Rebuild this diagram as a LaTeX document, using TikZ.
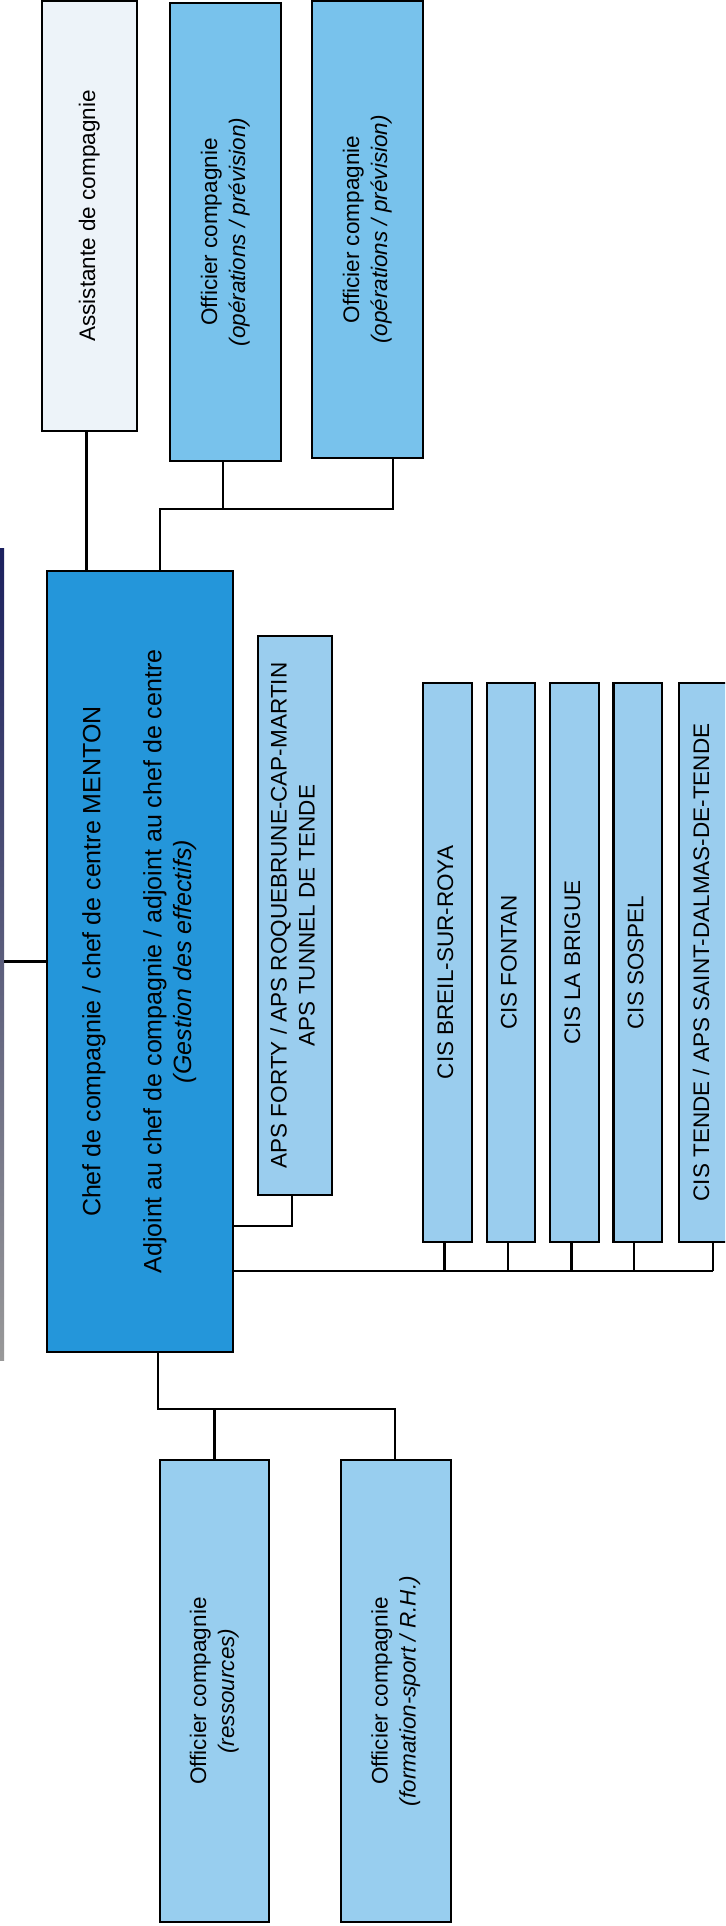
\documentclass[tikz,border=0pt]{standalone}
\usepackage{fontspec}
\setmainfont{Liberation Sans}
\usepackage{graphicx}
\usetikzlibrary{calc}
\definecolor{asstc}{HTML}{EDF3F9}
\definecolor{offc}{HTML}{78C2EC}
\definecolor{offb}{HTML}{98CEEF}
\definecolor{mainc}{HTML}{2496DA}
\definecolor{cisc}{HTML}{9ACDEE}
\definecolor{navyc}{HTML}{1B205E}
\newcommand{\vlab}[1]{\rotatebox{90}{\begin{tabular}{@{}c@{}}#1\end{tabular}}}
\begin{document}
\begin{tikzpicture}[x=1pt,y=-1pt,
  box/.style={draw=black, line width=2.3pt, inner sep=0pt, rectangle, font=\fontsize{22.5}{28}\selectfont},
  conn/.style={draw=black, line width=2.1pt},
]
\useasboundingbox (0,0) rectangle (725,1926);
\fill[white] (0,0) rectangle (725,1926);
\clip (0,0) rectangle (725,1926);

% parent (cut off at left edge)
\node[rectangle, inner sep=0pt, minimum width=104, minimum height=812,
      top color=navyc, middle color=navyc, bottom color=black!40] (parent) at (-48,954) {};

% top row
\node[box, fill=asstc, minimum width=95, minimum height=430] (asst) at (89.5,216) {\vlab{Assistante de compagnie}};
\node[box, fill=offc, minimum width=111, minimum height=458] (off1) at (225.5,232) {\vlab{Officier compagnie\\ \textit{(opérations / prévision)}}};
\node[box, fill=offc, minimum width=111, minimum height=457] (off2) at (367.5,229.5) {\vlab{Officier compagnie\\ \textit{(opérations / prévision)}}};

% main
\node[box, fill=mainc, minimum width=186, minimum height=781, font=\fontsize{25}{30.5}\selectfont] (main) at (140,961.5)
  {\vlab{Chef de compagnie / chef de centre MENTON\\ \\ Adjoint au chef de compagnie / adjoint au chef de centre\\ \textit{(Gestion des effectifs)}}};

% APS
\node[box, fill=cisc, minimum width=74, minimum height=559] (aps) at (295,915.5)
  {\vlab{APS FORTY / APS ROQUEBRUNE-CAP-MARTIN\\ APS TUNNEL DE TENDE}};

% CIS
\node[box, fill=cisc, minimum width=49, minimum height=559] (cis1) at (447.5,962.5) {\vlab{CIS BREIL-SUR-ROYA}};
\node[box, fill=cisc, minimum width=48, minimum height=559] (cis2) at (511,962.5) {\vlab{CIS FONTAN}};
\node[box, fill=cisc, minimum width=49, minimum height=559] (cis3) at (574.5,962.5) {\vlab{CIS LA BRIGUE}};
\node[box, fill=cisc, minimum width=48.5, minimum height=559] (cis4) at (637.75,962.5) {\vlab{CIS SOSPEL}};
\node[box, fill=cisc, minimum width=49, minimum height=559] (cis5) at (703.5,962.5) {\vlab{CIS TENDE / APS SAINT-DALMAS-DE-TENDE}};

% bottom
\node[box, fill=offb, minimum width=109, minimum height=462] (res) at (214.5,1691) {\vlab{Officier compagnie\\ \textit{(ressources)}}};
\node[box, fill=offb, minimum width=110, minimum height=462] (form) at (396,1691) {\vlab{Officier compagnie\\ \textit{(formation-sport / R.H.)}}};

% connectors
\draw[conn] (parent.east |- main.west) -- (main.west);
\draw[conn] ([xshift=-3]asst.south) -- ([xshift=-3]asst.south |- main.north);

\coordinate (jt) at (160,509);
\coordinate (o2) at ([xshift=25.5]off2.south);
\draw[conn] (jt |- main.north) -- (jt) -| (o2);
\draw[conn] ([xshift=-2.5]off1.south) -- ([xshift=-2.5]off1.south |- jt);

\coordinate (ja) at (292,1226);
\draw[conn] ([xshift=-3]aps.south) -- (ja) -- (ja -| main.east);

\coordinate (jc) at (0,1271);
\coordinate (c5) at ([xshift=9.5]cis5.south);
\draw[conn] (jc -| main.east) -- (jc -| c5);
\foreach \n/\s in {cis1/-3, cis2/-3, cis3/-3, cis4/-3.5, cis5/9.5}
  \draw[conn] ([xshift=\s]\n.south) -- ([xshift=\s]\n.south |- jc);

\coordinate (jb) at (157.6,1409);
\coordinate (fm) at ([xshift=-1]form.north);
\draw[conn] (jb |- main.south) -- (jb) -| (fm);
\draw[conn] (res.north) -- (res.north |- jb);
\end{tikzpicture}
\end{document}
